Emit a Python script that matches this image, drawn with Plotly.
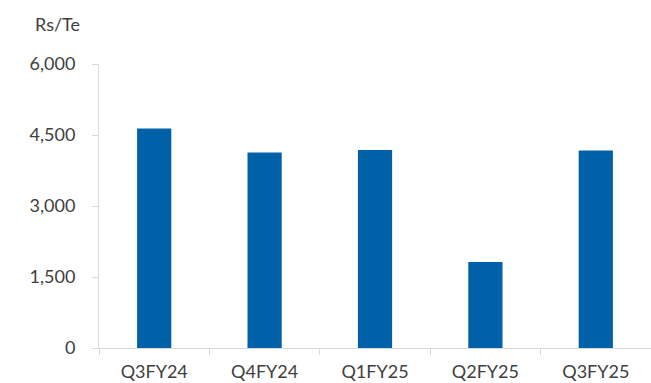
import plotly.graph_objects as go

categories = ["Q3FY24", "Q4FY24", "Q1FY25", "Q2FY25", "Q3FY25"]
values = [4635, 4130, 4185, 1815, 4170]
y_ticks = [0, 1500, 3000, 4500, 6000]
y_tick_labels = ["0", "1,500", "3,000", "4,500", "6,000"]
unit_label = "Rs/Te"

fig = go.Figure()
fig.add_trace(go.Bar(x=categories, y=values, marker=dict(color="#0061A8", line=dict(width=0))))

font = dict(family="Lato, Open Sans, sans-serif", size=18, color="#404040")
fig.update_layout(
    width=651, height=383,
    margin=dict(l=99, r=0, t=64, b=35),
    plot_bgcolor="white", paper_bgcolor="white",
    bargap=0.69, showlegend=False, font=font,
)
fig.update_yaxes(
    range=[0, 6000], tickvals=y_ticks, ticktext=y_tick_labels,
    showgrid=False, zeroline=False, showline=True, linecolor="#d9d9d9", linewidth=1,
    ticks="outside", ticklen=6, tickcolor="#d9d9d9", ticklabelstandoff=13,
)
fig.update_xaxes(
    showgrid=False, showline=True, linecolor="#d9d9d9", linewidth=1,
    ticks="outside", ticklen=6, tickcolor="#d9d9d9", tickson="boundaries",
    ticklabelstandoff=7,
)
fig.add_annotation(text=unit_label, xref="paper", yref="paper", x=-0.0752, y=1.0,
                   yshift=40, xanchor="center", yanchor="middle", showarrow=False, font=font)
fig.write_html("out.html")
